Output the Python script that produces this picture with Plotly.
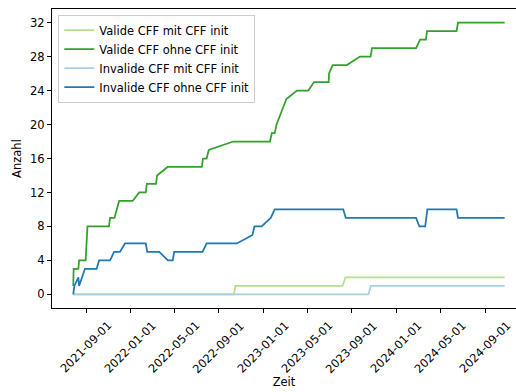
import plotly.graph_objects as go

# Cumulative counts over time
valide_mit_dates = ["2021-07-28", "2022-10-12", "2022-10-16", "2023-08-06", "2023-08-14", "2024-10-24"]
valide_mit_counts = [0, 0, 1, 1, 2, 2]

valide_ohne_dates = [
    "2021-07-28", "2021-07-29", "2021-08-11", "2021-08-13", "2021-08-31", "2021-09-02",
    "2021-09-05", "2021-11-03", "2021-11-06", "2021-11-18", "2021-11-24", "2021-12-01",
    "2022-01-07", "2022-01-25", "2022-02-12", "2022-02-15", "2022-03-12", "2022-03-15",
    "2022-04-13", "2022-07-16", "2022-07-19", "2022-07-29", "2022-08-04", "2022-10-10",
    "2023-01-19", "2023-01-24", "2023-02-01", "2023-02-06", "2023-02-15", "2023-02-23",
    "2023-03-05", "2023-04-03", "2023-05-04", "2023-05-20", "2023-06-29", "2023-06-30",
    "2023-07-10", "2023-08-18", "2023-09-23", "2023-10-22", "2023-10-26", "2024-02-24",
    "2024-03-06", "2024-03-22", "2024-03-25", "2024-06-14", "2024-06-18", "2024-10-24",
]
valide_ohne_counts = [
    1, 3, 3, 4, 4, 6,
    8, 8, 9, 9, 10, 11,
    11, 12, 12, 13, 13, 14,
    15, 15, 16, 16, 17, 18,
    18, 19, 19, 20, 21, 22,
    23, 24, 24, 25, 25, 26,
    27, 27, 28, 28, 29, 29,
    30, 30, 31, 31, 32, 32,
]

invalide_mit_dates = ["2021-07-28", "2023-10-16", "2023-10-23", "2024-10-24"]
invalide_mit_counts = [0, 0, 1, 1]

invalide_ohne_dates = [
    "2021-07-28", "2021-07-29", "2021-07-30", "2021-07-31", "2021-08-11", "2021-08-13",
    "2021-08-29", "2021-09-30", "2021-10-07", "2021-11-06", "2021-11-17", "2021-12-03",
    "2021-12-17", "2022-02-12", "2022-02-16", "2022-03-21", "2022-04-14", "2022-04-27",
    "2022-05-01", "2022-07-18", "2022-07-29", "2022-10-20", "2022-12-02", "2022-12-07",
    "2022-12-27", "2023-01-21", "2023-02-01", "2023-08-08", "2023-08-15", "2024-02-24",
    "2024-03-04", "2024-03-20", "2024-03-26", "2024-06-14", "2024-06-18", "2024-10-24",
]
invalide_ohne_counts = [
    0, 1, 0, 1, 2, 1,
    3, 3, 4, 4, 5, 5,
    6, 6, 5, 5, 4, 4,
    5, 5, 6, 6, 7, 8,
    8, 9, 10, 10, 9, 9,
    8, 8, 10, 10, 9, 9,
]

x_tick_dates = [
    "2021-09-01", "2022-01-01", "2022-05-01", "2022-09-01", "2023-01-01",
    "2023-05-01", "2023-09-01", "2024-01-01", "2024-05-01", "2024-09-01",
]
y_ticks = [0, 4, 8, 12, 16, 20, 24, 28, 32]

FONT = "DejaVu Sans"
FS = 11.5

series = [
    ("Valide CFF mit CFF init", valide_mit_dates, valide_mit_counts, "#b2df8a"),
    ("Valide CFF ohne CFF init", valide_ohne_dates, valide_ohne_counts, "#33a02c"),
    ("Invalide CFF mit CFF init", invalide_mit_dates, invalide_mit_counts, "#a6cee3"),
    ("Invalide CFF ohne CFF init", invalide_ohne_dates, invalide_ohne_counts, "#1f78b4"),
]

fig = go.Figure()
for name, xs, ys, color in series:
    fig.add_trace(go.Scatter(
        x=xs, y=ys, mode="lines", name=name,
        line=dict(color=color, width=1.75),
    ))

# Rotated date labels, centred under each tick
annotations = [
    dict(
        x=d, y=0, xref="x", yref="paper", text=d, showarrow=False,
        textangle=-45, xanchor="center", yanchor="top", yshift=-8,
        font=dict(family=FONT, size=FS, color="black"),
    )
    for d in x_tick_dates
]

fig.update_layout(
    width=516, height=392,
    margin=dict(l=52, r=0, t=9, b=84),
    paper_bgcolor="white", plot_bgcolor="white",
    font=dict(family=FONT, size=FS, color="black"),
    showlegend=True,
    legend=dict(
        x=0.0136, y=0.981, xanchor="left", yanchor="top",
        bgcolor="rgba(255,255,255,0.8)", bordercolor="#cccccc", borderwidth=1,
        font=dict(family=FONT, size=FS, color="black"),
        tracegroupgap=0,
    ),
    annotations=annotations,
    xaxis=dict(
        type="date",
        range=["2021-05-30 16:00", "2024-11-24 05:00"],
        tickvals=x_tick_dates,
        showticklabels=False,
        ticks="outside", ticklen=4, tickwidth=1, tickcolor="black",
        showline=True, linecolor="black", linewidth=1, mirror=True,
        showgrid=False, zeroline=False,
        title=dict(text="Zeit", standoff=65, font=dict(family=FONT, size=FS, color="black")),
    ),
    yaxis=dict(
        range=[-1.6, 33.6],
        tickvals=y_ticks,
        ticks="outside", ticklen=4, tickwidth=1, tickcolor="black",
        showline=True, linecolor="black", linewidth=1, mirror=False,
        showgrid=False, zeroline=False,
        tickfont=dict(family=FONT, size=FS, color="black"),
        title=dict(text="Anzahl", standoff=6, font=dict(family=FONT, size=FS, color="black")),
    ),
)

fig.write_html("out.html")
